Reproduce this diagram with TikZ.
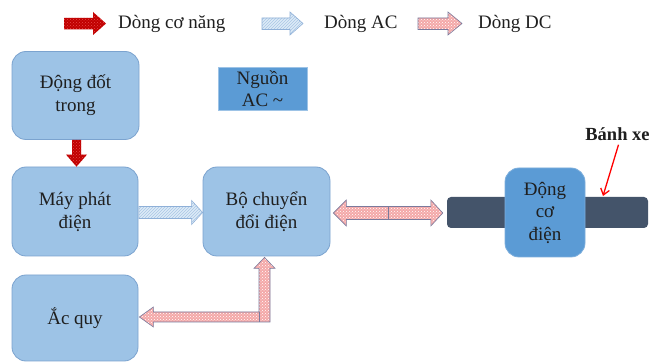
\documentclass[tikz,border=0pt]{standalone}
\usepackage{fontspec}
\setmainfont{Liberation Serif}
\usetikzlibrary{patterns,calc,arrows.meta}
\definecolor{boxfill}{HTML}{9DC3E6}
\definecolor{boxline}{HTML}{7BA3CF}
\definecolor{midblue}{HTML}{5B9BD5}
\definecolor{midline}{HTML}{7DAEDC}
\definecolor{barcol}{HTML}{44546A}
\definecolor{mechred}{HTML}{C00000}
\definecolor{mechdot}{HTML}{E84848}
\definecolor{acfill}{HTML}{DDEBF7}
\definecolor{acpat}{HTML}{A9C6E4}
\definecolor{acline}{HTML}{8FB0D8}
\definecolor{dcfill}{HTML}{F4A8A8}
\definecolor{dcline}{HTML}{7A7A9C}
\definecolor{txt}{HTML}{1F1F1F}
\begin{document}
\begin{tikzpicture}[x=1pt,y=-1pt,
  lightbox/.style={draw=boxline, line width=0.8pt, fill=boxfill, rounded corners=14pt,
    inner sep=0pt, align=center, text=txt, font=\fontsize{19}{23}\selectfont},
  srcbox/.style={draw=boxfill, line width=0.8pt, fill=midblue, inner sep=0pt,
    align=center, text=txt, font=\fontsize{19}{22}\selectfont},
  motorbox/.style={draw=midline, line width=0.8pt, fill=midblue, rounded corners=14pt,
    inner sep=0pt, align=center, text=txt, font=\fontsize{19}{22.5}\selectfont},
  barbox/.style={fill=barcol, rounded corners=4pt, inner sep=0pt},
  legtext/.style={anchor=base west, inner sep=0pt, text=txt, font=\fontsize{19}{23}\selectfont},
  mecharrow/.style={preaction={fill=mechred}, pattern=crosshatch dots, pattern color=mechdot},
  acarrow/.style={preaction={fill=acfill}, pattern=north east lines, pattern color=acpat,
    draw=acline, line width=0.6pt},
  dcarrow/.style={preaction={fill=dcfill}, pattern=crosshatch dots, pattern color=white,
    draw=dcline, line width=0.6pt},
  pointer/.style={draw=red, line width=1.3pt, -{Straight Barb[length=6pt,width=9pt]}}
]
\useasboundingbox (0,0) rectangle (651,363);
\fill[white] (0,0) rectangle (651,363);

% legend
\path[mecharrow] (64,18) -- (93,18) -- (93,12) -- (106,23.5) -- (93,35) -- (93,29.5) -- (64,29.5) -- cycle;
\node[legtext] (leg1) at (118,28.5) {Dòng cơ năng};
\path[acarrow] (262,18) -- (290,18) -- (290,12) -- (303,23.5) -- (290,35) -- (290,29.5) -- (262,29.5) -- cycle;
\node[legtext] (leg2) at (324,28.5) {Dòng AC};
\path[dcarrow] (418,18) -- (448,18) -- (448,12) -- (462,23.5) -- (448,35) -- (448,29.5) -- (418,29.5) -- cycle;
\node[legtext] (leg3) at (478,28.5) {Dòng DC};

% boxes
\node[lightbox, minimum width=127pt, minimum height=88pt] (eng) at (75.5,95.5) {Động đốt\\trong};
\node[srcbox, minimum width=89pt, minimum height=43pt] (src) at (262.5,88.5) {Nguồn\\AC \textasciitilde};
\node[lightbox, minimum width=126pt, minimum height=89pt] (gen) at (75,211.5) {Máy phát\\điện};
\node[lightbox, minimum width=127pt, minimum height=89pt] (conv) at (266.5,211.5) {Bộ chuyển\\đổi điện};
\node[lightbox, minimum width=126pt, minimum height=86pt] (bat) at (75,318) {Ắc quy};
\node[barbox, minimum width=201pt, minimum height=31pt] (bar) at (547.5,212.5) {};
\node[motorbox, minimum width=80pt, minimum height=89pt] (motor) at (545,212.5) {Động\\cơ\\điện};

% mechanical flow
\path[mecharrow] let \p1=(eng.south), \p2=(gen.north) in
  (\x1-3.5pt,\y1) -- (\x1+5.5pt,\y1) -- (\x1+5.5pt,\y2+12pt) -- (\x1+11.5pt,\y2+12pt)
  -- (\x1+1pt,\y2) -- (\x1-9.5pt,\y2+12pt) -- (\x1-3.5pt,\y2+12pt) -- cycle;

% AC flow
\path[acarrow] let \p1=(gen.east), \p2=(conv.west) in
  (\x1+0.5pt,\y1+5pt) -- (\x2-11pt,\y1+5pt) -- (\x2-11pt,\y1+11pt) -- (\x2,\y1-1pt)
  -- (\x2-11pt,\y1-13pt) -- (\x2-11pt,\y1-7pt) -- (\x1+0.5pt,\y1-7pt) -- cycle;

% DC double arrow converter <-> motor
\path[dcarrow] let \p1=(conv.east), \p2=(bar.west) in
  (\x1+3pt,\y1-1.5pt) -- (\x1+16pt,\y1+11.5pt) -- (\x1+16pt,\y1+5pt) -- (\x2-16pt,\y1+5pt)
  -- (\x2-16pt,\y1+11.5pt) -- (\x2-4pt,\y1-1.5pt) -- (\x2-16pt,\y1-14.5pt) -- (\x2-16pt,\y1-8pt)
  -- (\x1+16pt,\y1-8pt) -- (\x1+16pt,\y1-14.5pt) -- cycle;
\draw[dcline, line width=0.6pt] let \p1=(conv.east), \p2=(bar.west) in
  ({(\x1+\x2)/2},\y1+5pt) -- ({(\x1+\x2)/2},\y1-8pt);

% DC elbow arrow battery <-> converter
\path[dcarrow] let \p1=(conv.south), \p2=(bat.east) in
  (\x1-2pt,\y1-1pt) -- (\x1+8.5pt,\y1-12pt) -- (\x1+3.5pt,\y1-12pt) -- (\x1+3.5pt,\y2-4pt)
  -- (\x2+15pt,\y2-4pt) -- (\x2+15pt,\y2-9pt) -- (\x2+1pt,\y2+1pt) -- (\x2+15pt,\y2+11pt)
  -- (\x2+15pt,\y2+6pt) -- (\x1-7.5pt,\y2+6pt) -- (\x1-7.5pt,\y1-12pt) -- (\x1-12.5pt,\y1-12pt) -- cycle;
\draw[dcline, line width=0.6pt] let \p1=(conv.south), \p2=(bat.east) in
  (\x1-7.5pt,\y2+6pt) -- (\x1-7.5pt,\y2-4pt);

% wheel label
\node[anchor=base, text=txt, font=\bfseries\fontsize{18.5}{21}\selectfont] (wheel) at (617.5,141) {Bánh xe};
\coordinate (wheelpt) at (603,196);
\draw[pointer] ([xshift=1pt]wheel.south) -- (wheelpt);
\end{tikzpicture}
\end{document}
